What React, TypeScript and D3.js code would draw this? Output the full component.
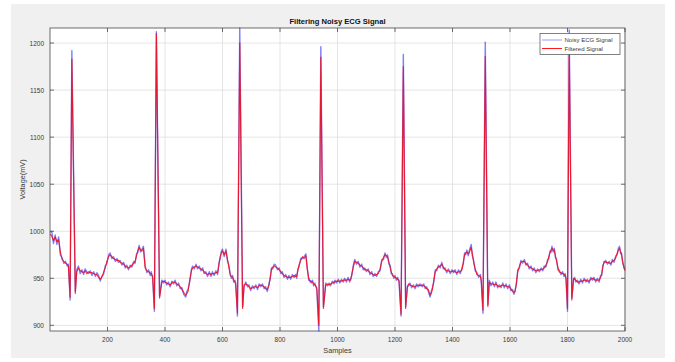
import React from "react";
import * as d3 from "d3";

// ---- data ----
const samples = [
  0, 6, 12, 18, 24, 30, 36, 42, 48, 54,
  60, 64, 70, 76, 88, 93, 99, 105, 111, 117,
  122, 128, 134, 140, 146, 152, 158, 163, 169, 175,
  180, 186, 192, 198, 204, 209, 215, 221, 227, 233,
  238, 244, 250, 256, 262, 267, 273, 279, 285, 291,
  296, 301, 306, 310, 315, 320, 325, 331, 337, 343,
  349, 352, 357, 363, 370, 381, 389, 395, 400, 406,
  412, 418, 424, 430, 435, 441, 447, 453, 459, 465,
  472, 476, 480, 487, 492, 496, 502, 508, 513, 519,
  525, 531, 536, 542, 548, 554, 560, 565, 571, 577,
  583, 588, 592, 596, 600, 606, 612, 617, 622, 627,
  631, 635, 639, 643, 646, 652, 660, 670, 675, 681,
  687, 692, 698, 704, 710, 716, 722, 727, 733, 739,
  745, 750, 756, 762, 766, 770, 775, 780, 785, 791,
  797, 803, 808, 814, 820, 826, 831, 837, 843, 849,
  854, 858, 862, 866, 872, 878, 884, 890, 895, 900,
  905, 909, 913, 917, 921, 928, 935, 942, 951, 959,
  965, 971, 976, 982, 988, 991, 997, 1003, 1008, 1014,
  1020, 1025, 1031, 1037, 1042, 1046, 1050, 1055, 1060, 1066,
  1072, 1078, 1084, 1090, 1095, 1101, 1107, 1113, 1119, 1124,
  1130, 1136, 1142, 1148, 1154, 1160, 1165, 1170, 1174, 1179,
  1183, 1187, 1191, 1196, 1200, 1205, 1209, 1214, 1221, 1229,
  1237, 1243, 1247, 1252, 1258, 1264, 1270, 1275, 1281, 1287,
  1295, 1300, 1305, 1310, 1316, 1322, 1326, 1330, 1335, 1340,
  1345, 1351, 1357, 1363, 1368, 1374, 1380, 1386, 1392, 1398,
  1404, 1409, 1415, 1421, 1427, 1433, 1438, 1442, 1446, 1450,
  1455, 1458, 1465, 1469, 1473, 1479, 1485, 1491, 1497, 1500,
  1506, 1514, 1523, 1528, 1534, 1540, 1546, 1551, 1557, 1563,
  1569, 1575, 1580, 1586, 1592, 1598, 1603, 1609, 1614, 1618,
  1622, 1627, 1633, 1638, 1644, 1650, 1655, 1661, 1667, 1673,
  1679, 1684, 1690, 1696, 1702, 1708, 1714, 1719, 1725, 1731,
  1735, 1739, 1743, 1746, 1750, 1754, 1758, 1762, 1767, 1771,
  1777, 1783, 1788, 1792, 1795, 1800, 1806, 1815, 1821, 1825,
  1829, 1835, 1840, 1846, 1852, 1858, 1864, 1869, 1875, 1881,
  1887, 1892, 1898, 1904, 1910, 1915, 1919, 1923, 1927, 1933,
  1939, 1945, 1951, 1956, 1962, 1968, 1973, 1977, 1981, 1985,
  1988, 1992, 1996, 2000,
];

const filtered = [
  997, 995, 990, 994, 989, 991, 978, 970, 968, 966,
  965, 963, 930, 1183, 934, 957, 961, 958, 957, 956,
  958, 955, 957, 956, 956, 955, 954, 954, 951, 949,
  951, 956, 961, 968, 973, 975, 973, 971, 970, 969,
  969, 967, 966, 965, 963, 962, 961, 962, 964, 966,
  968, 974, 980, 983, 980, 979, 982, 961, 958, 957,
  955, 955, 952, 918, 1210, 929, 946, 947, 946, 945,
  944, 943, 945, 946, 946, 944, 943, 941, 938, 935,
  932, 934, 936, 950, 958, 961, 962, 963, 962, 961,
  960, 959, 957, 955, 954, 955, 954, 955, 955, 956,
  956, 965, 973, 977, 979, 975, 979, 971, 962, 953,
  952, 951, 948, 946, 943, 913, 1200, 918, 943, 944,
  943, 941, 939, 940, 941, 941, 940, 942, 943, 942,
  941, 939, 938, 943, 951, 959, 962, 963, 962, 961,
  959, 957, 955, 953, 952, 951, 951, 951, 952, 953,
  952, 952, 958, 964, 969, 973, 971, 974, 959, 950,
  946, 947, 946, 944, 943, 940, 900, 1185, 918, 943,
  944, 943, 944, 945, 946, 946, 947, 947, 947, 947,
  948, 948, 948, 949, 948, 948, 955, 962, 968, 967,
  966, 964, 963, 961, 959, 959, 958, 956, 955, 954,
  953, 954, 955, 960, 968, 972, 975, 974, 973, 967,
  962, 957, 953, 952, 951, 950, 949, 948, 912, 1175,
  918, 940, 944, 943, 942, 941, 941, 942, 943, 942,
  943, 942, 941, 939, 938, 932, 934, 938, 948, 957,
  960, 962, 963, 965, 962, 959, 958, 958, 957, 957,
  958, 957, 956, 957, 957, 959, 968, 975, 977, 978,
  976, 977, 983, 976, 968, 960, 954, 953, 952, 948,
  916, 1186, 920, 946, 944, 944, 943, 944, 942, 941,
  942, 943, 942, 942, 941, 941, 939, 936, 935, 936,
  945, 957, 963, 967, 968, 968, 966, 964, 962, 961,
  960, 959, 958, 958, 959, 959, 960, 961, 964, 968,
  973, 977, 980, 982, 980, 980, 974, 968, 961, 957,
  956, 955, 954, 953, 950, 918, 1197, 927, 950, 949,
  948, 946, 946, 947, 947, 948, 948, 947, 947, 949,
  950, 949, 948, 948, 948, 951, 955, 962, 968, 967,
  967, 966, 966, 968, 969, 972, 977, 980, 982, 978,
  975, 968, 961, 958,
];

const noisy = [
  999, 1000, 987, 996, 986, 994, 975, 972, 966, 968,
  963, 965, 927, 1192, 936, 959, 963, 955, 959, 954,
  960, 957, 955, 958, 953, 957, 952, 956, 953, 947,
  952, 954, 963, 966, 975, 977, 971, 973, 968, 971,
  967, 969, 964, 967, 961, 964, 959, 964, 962, 968,
  966, 976, 978, 985, 978, 981, 984, 963, 956, 959,
  953, 957, 950, 915, 1212, 931, 948, 945, 948, 943,
  946, 941, 947, 944, 948, 942, 945, 939, 940, 933,
  930, 936, 938, 948, 960, 963, 960, 965, 960, 963,
  958, 961, 955, 957, 952, 957, 952, 957, 953, 958,
  954, 967, 971, 979, 981, 973, 981, 969, 964, 955,
  950, 953, 946, 948, 945, 910, 1216, 920, 941, 946,
  941, 943, 937, 942, 939, 943, 938, 944, 941, 944,
  939, 941, 936, 945, 949, 961, 960, 965, 964, 959,
  961, 955, 957, 951, 954, 949, 953, 949, 954, 951,
  954, 950, 960, 962, 971, 971, 973, 976, 961, 948,
  948, 945, 948, 942, 945, 938, 894, 1196, 920, 945,
  942, 945, 942, 947, 944, 948, 945, 949, 945, 949,
  946, 950, 946, 951, 946, 950, 953, 964, 970, 965,
  968, 962, 965, 959, 961, 957, 960, 954, 957, 952,
  955, 952, 957, 958, 970, 970, 977, 972, 975, 965,
  964, 955, 955, 950, 953, 948, 951, 946, 910, 1188,
  920, 942, 942, 945, 940, 943, 939, 944, 941, 944,
  941, 944, 939, 941, 936, 930, 936, 940, 946, 959,
  958, 964, 961, 967, 960, 961, 956, 960, 955, 959,
  956, 959, 954, 959, 955, 961, 966, 977, 975, 980,
  974, 979, 986, 974, 970, 958, 956, 951, 954, 946,
  913, 1201, 922, 948, 942, 946, 941, 946, 940, 943,
  940, 945, 940, 944, 939, 943, 937, 938, 933, 938,
  943, 959, 961, 969, 966, 970, 964, 966, 960, 963,
  958, 961, 956, 960, 957, 961, 958, 963, 962, 970,
  971, 979, 978, 984, 978, 982, 972, 970, 959, 959,
  954, 957, 952, 955, 948, 915, 1214, 929, 948, 951,
  946, 948, 944, 949, 945, 950, 946, 949, 945, 951,
  948, 951, 946, 950, 946, 953, 953, 964, 966, 969,
  965, 968, 964, 970, 967, 974, 975, 982, 984, 976,
  977, 966, 963, 960,
];

const xTicks = [200, 400, 600, 800, 1000, 1200, 1400, 1600, 1800, 2000];
const yTicks = [900, 950, 1000, 1050, 1100, 1150, 1200];
const seriesNames = ["Noisy ECG Signal", "Filtered Signal"];
const titleText = "Filtering Noisy ECG Signal";
const xLabel = "Samples";
const yLabel = "Voltage(mV)";

// ---- layout ----
const W = 675;
const H = 362;
const M = { left: 50, right: 625, top: 28, bottom: 331 };
const FONT = "'Liberation Sans', Arial, Helvetica, sans-serif";
const AXIS = "#4a4a4a";
const TXT = "#3a3a3a";
const BLUE = "#0000ff";
const RED = "#ff0000";

export default function App() {
  const n = Math.min(samples.length, filtered.length, noisy.length);
  const idx = d3.range(n);

  const x = d3
    .scaleLinear()
    .domain(d3.extent(samples) as [number, number])
    .range([M.left, M.right]);
  const y = d3
    .scaleLinear()
    .domain(d3.extent(noisy) as [number, number])
    .range([M.bottom, M.top]);

  const lineNoisy = d3
    .line<number>()
    .x((i) => x(samples[i]))
    .y((i) => y(noisy[i]));
  const lineFiltered = d3
    .line<number>()
    .x((i) => x(samples[i]))
    .y((i) => y(filtered[i]));

  const tickLen = 4;
  const lg = { x: 540, y: 33.5, w: 80, h: 21 };

  return (
    <svg
      width={W}
      height={H}
      style={{ position: "absolute", left: 0, top: 0 }}
      fontFamily={FONT}
    >
      <rect x={0} y={0} width={W} height={H} fill="#ffffff" />
      <rect x={11} y={4} width={654} height={354} fill="#f0f0f0" />
      <rect
        x={M.left}
        y={M.top}
        width={M.right - M.left}
        height={M.bottom - M.top}
        fill="#ffffff"
      />
      {/* grid */}
      <g stroke="#dedede" strokeWidth={0.8}>
        {xTicks.map((t) => (
          <line key={"gx" + t} x1={x(t)} x2={x(t)} y1={M.top} y2={M.bottom} />
        ))}
        {yTicks.map((t) => (
          <line key={"gy" + t} x1={M.left} x2={M.right} y1={y(t)} y2={y(t)} />
        ))}
      </g>
      {/* series */}
      <path
        d={lineNoisy(idx) || ""}
        fill="none"
        stroke={BLUE}
        strokeOpacity={0.5}
        strokeWidth={1.4}
        strokeLinejoin="round"
      />
      <path
        d={lineFiltered(idx) || ""}
        fill="none"
        stroke={RED}
        strokeOpacity={0.8}
        strokeWidth={1.15}
        strokeLinejoin="round"
      />
      {/* box & ticks */}
      <rect
        x={M.left}
        y={M.top}
        width={M.right - M.left}
        height={M.bottom - M.top}
        fill="none"
        stroke={AXIS}
        strokeWidth={0.8}
      />
      <g stroke={AXIS} strokeWidth={0.8}>
        {xTicks.map((t) => (
          <g key={"tx" + t}>
            <line x1={x(t)} x2={x(t)} y1={M.bottom} y2={M.bottom - tickLen} />
            <line x1={x(t)} x2={x(t)} y1={M.top} y2={M.top + tickLen} />
          </g>
        ))}
        {yTicks.map((t) => (
          <g key={"ty" + t}>
            <line x1={M.left} x2={M.left + tickLen} y1={y(t)} y2={y(t)} />
            <line x1={M.right} x2={M.right - tickLen} y1={y(t)} y2={y(t)} />
          </g>
        ))}
      </g>
      {/* tick labels */}
      <g fontSize={6.5} fill={TXT}>
        {xTicks.map((t) => (
          <text key={"lx" + t} x={x(t)} y={M.bottom + 11} textAnchor="middle">
            {t}
          </text>
        ))}
        {yTicks.map((t) => (
          <text
            key={"ly" + t}
            x={M.left - 6}
            y={y(t)}
            textAnchor="end"
            dominantBaseline="central"
          >
            {t}
          </text>
        ))}
      </g>
      {/* axis labels and title */}
      <text
        x={(M.left + M.right) / 2}
        y={353}
        textAnchor="middle"
        fontSize={7.3}
        fill={TXT}
      >
        {xLabel}
      </text>
      <text
        transform={`translate(25, ${(M.top + M.bottom) / 2}) rotate(-90)`}
        textAnchor="middle"
        fontSize={7.3}
        fill={TXT}
      >
        {yLabel}
      </text>
      <text
        x={(M.left + M.right) / 2}
        y={23.5}
        textAnchor="middle"
        fontSize={7.6}
        fontWeight="bold"
        fill="#111"
      >
        {titleText}
      </text>
      {/* legend */}
      <g>
        <rect
          x={lg.x}
          y={lg.y}
          width={lg.w}
          height={lg.h}
          fill="#ffffff"
          stroke={AXIS}
          strokeWidth={0.7}
        />
        {seriesNames.map((name, i) => {
          const cy = lg.y + 6.5 + i * 8.5;
          return (
            <g key={name}>
              <line
                x1={lg.x + 2}
                x2={lg.x + 22}
                y1={cy}
                y2={cy}
                stroke={i === 0 ? BLUE : RED}
                strokeOpacity={i === 0 ? 0.4 : 0.9}
                strokeWidth={1}
              />
              <text
                x={lg.x + 24.5}
                y={cy}
                dominantBaseline="central"
                fontSize={6}
                fill={TXT}
              >
                {name}
              </text>
            </g>
          );
        })}
      </g>
    </svg>
  );
}
